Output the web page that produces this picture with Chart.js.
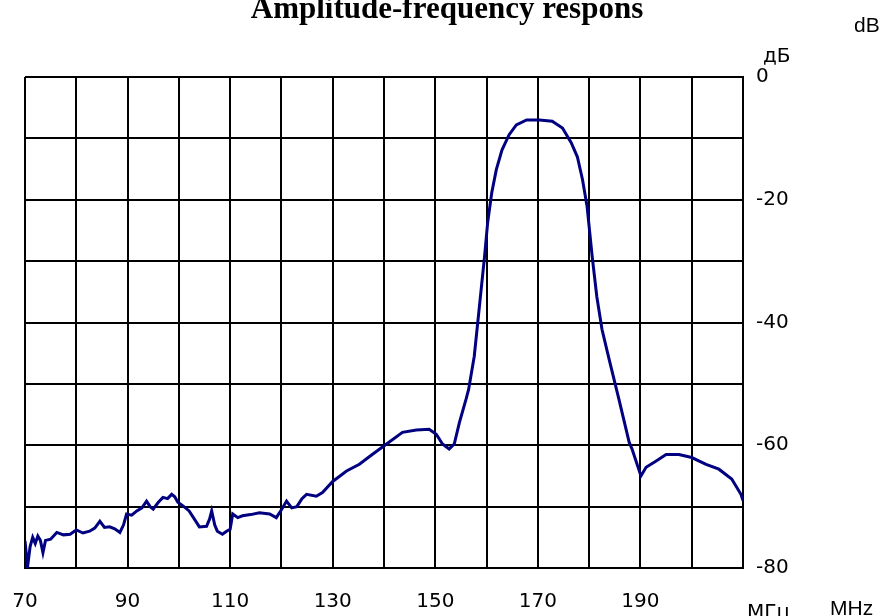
<!DOCTYPE html>
<html lang="en">
<head>
  <meta charset="UTF-8" />
  <title>Amplitude-frequency respons</title>
  <script src="https://cdn.jsdelivr.net/npm/chart.js"></script>
  <style>
    html, body { margin: 0; padding: 0; background: #fff; }
    #wrap { width: 883px; height: 616px; position: relative; }
  </style>
</head>
<body>
  <div id="wrap"><canvas id="afc"></canvas></div>

  <script>
    // frequency, MHz
    const freq = [70, 70.5, 71, 71.5, 72, 72.5, 73, 73.5, 74, 75, 76.2, 77.5, 78.8, 80, 81.3, 82.6, 83.6, 84.6, 85.5, 86.5,
      87.5, 88.5, 89.2, 89.8, 90.8, 91.8, 92.8, 93.7, 94.4, 95, 96, 96.9, 97.8, 98.6, 99.2, 99.8, 101, 102, 103, 104,
      105.4, 106, 106.4, 107, 107.5, 108.5, 109.3, 110, 110.5, 111.5, 112.4, 114, 115.7, 117.7, 119, 120, 121, 122, 123, 124,
      124.9, 126.8, 128, 130, 132.7, 135.2, 137.7, 140.5, 143.6, 146.3, 148.8, 150.2, 151.4, 152.7, 153.7, 154.7, 156, 156.5, 157.6, 158.6,
      159.6, 160.2, 161, 161.9, 163, 164.4, 165.8, 167.8, 170.3, 172.8, 174.8, 176.5, 177.7, 178.7, 179.6, 180.6, 181.5, 182.5, 183.9, 185.8,
      187.8, 188.4, 190.1, 191.1, 193, 195, 197.5, 200, 202.8, 205.3, 207.8, 209.6, 210];
    // level, dB
    const level = [-75.6, -79.8, -76.5, -75, -76, -74.8, -75.5, -77.5, -75.5, -75.3, -74.2, -74.6, -74.5, -73.8, -74.3, -74, -73.5, -72.4, -73.4, -73.3,
      -73.6, -74.2, -73, -71.2, -71.4, -70.7, -70.2, -69.1, -70, -70.4, -69.3, -68.5, -68.7, -68, -68.4, -69.3, -70, -70.7, -72, -73.3,
      -73.2, -72, -70.7, -73, -74, -74.5, -74, -73.7, -71.2, -71.8, -71.5, -71.3, -71, -71.2, -71.8, -70.5, -69.1, -70.2, -70, -68.7,
      -68, -68.3, -67.7, -65.9, -64.2, -63.1, -61.5, -59.8, -57.9, -57.5, -57.4, -58.2, -59.8, -60.6, -59.8, -56.3, -52.5, -50.9, -45.5, -37.4,
      -29.3, -23.8, -18.9, -15.1, -11.9, -9.4, -7.8, -7, -7, -7.2, -8.3, -10.7, -13, -16.7, -21.1, -29.3, -35.8, -41.1, -46, -52.5,
      -59.5, -60.7, -65, -63.6, -62.6, -61.5, -61.5, -62, -63.1, -63.9, -65.5, -68, -69];

    const xTicksShown = [70, 90, 110, 130, 150, 170, 190];
    const yTicksShown = [0, -20, -40, -60, -80];

    const tickFont = "'DejaVu Sans', sans-serif";

    // texts outside the axes
    const extraText = {
      id: 'extraText',
      afterDraw(chart) {
        const ctx = chart.ctx;
        ctx.save();
        ctx.fillStyle = '#000';
        ctx.textBaseline = 'alphabetic';
        ctx.textAlign = 'center';
        ctx.font = "bold 31px 'Liberation Serif', serif";
        ctx.fillText('Amplitude-frequency respons', 447, 18);
        ctx.textAlign = 'left';
        ctx.font = "21px 'Liberation Sans', sans-serif";
        ctx.fillText('dB', 854, 32);
        ctx.fillText('MHz', 830, 615);
        ctx.font = "20px " + tickFont;
        ctx.fillText('дБ', 763, 62);
        ctx.fillText('МГц', 747, 618);
        ctx.restore();
      }
    };

    new Chart(document.getElementById('afc'), {
      type: 'line',
      data: {
        datasets: [{
          data: freq.map((f, i) => ({ x: f, y: level[i] })),
          borderColor: '#000080',
          borderWidth: 3,
          pointRadius: 0,
          tension: 0,
          fill: false
        }]
      },
      options: {
        responsive: true,
        maintainAspectRatio: false,
        animation: false,
        layout: { padding: { left: 0, top: 77, right: 0, bottom: 0 } },
        plugins: {
          legend: { display: false },
          title: { display: false },
          tooltip: { enabled: false }
        },
        scales: {
          x: {
            type: 'linear',
            min: 70,
            max: 210,
            afterFit: s => { s.height = 48; s.paddingLeft = 25; },
            afterBuildTicks: s => { s.ticks = []; for (let v = 70; v <= 210; v += 10) s.ticks.push({ value: v }); },
            ticks: {
              autoSkip: false,
              maxRotation: 0,
              padding: 22,
              color: '#000',
              font: { family: tickFont, size: 20 },
              callback: v => xTicksShown.includes(v) ? String(v) : ''
            },
            grid: { color: '#000', lineWidth: 2, drawTicks: false },
            border: { color: '#000', width: 2 }
          },
          y: {
            position: 'right',
            min: -80,
            max: 0,
            afterFit: s => { s.width = 140; },
            afterBuildTicks: s => { s.ticks = []; for (let v = -80; v <= 0; v += 10) s.ticks.push({ value: v }); },
            ticks: {
              padding: 13,
              color: '#000',
              font: { family: tickFont, size: 20 },
              callback: v => yTicksShown.includes(v) ? String(v) : ''
            },
            grid: { color: '#000', lineWidth: 2, drawTicks: false },
            border: { color: '#000', width: 2 }
          }
        }
      },
      plugins: [extraText]
    });
  </script>
</body>
</html>
